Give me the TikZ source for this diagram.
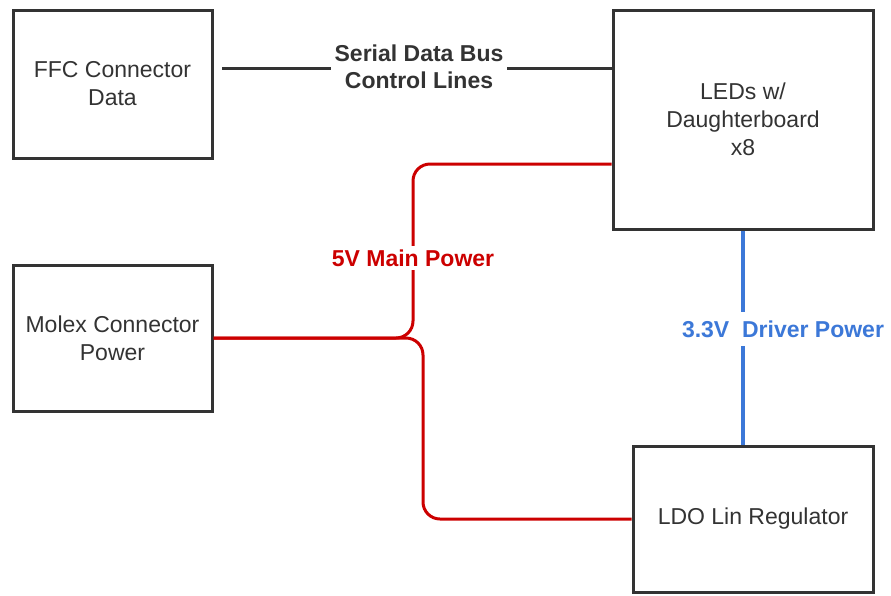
\documentclass[tikz,border=0pt]{standalone}
\usepackage{fontspec}
\setmainfont{Liberation Sans}
\definecolor{mainred}{HTML}{CC0000}
\definecolor{driverblue}{HTML}{3C78D8}
\definecolor{boxgray}{HTML}{333333}
\tikzset {
  every node/.style={font=\fontsize{23}{28}\selectfont},
  block/.style={draw=boxgray,line width=3pt,align=center,text=boxgray,inner sep=0pt},
  busline/.style={boxgray,line width=3pt},
  mainpower/.style={mainred,line width=3pt,rounded corners=17pt},
  driverpower/.style={driverblue,line width=3.5pt},
  wirelabel/.style={fill=white,align=center,inner sep=4pt,
    font=\fontsize{23}{27}\selectfont\bfseries},
}

\begin{document}
\begin{tikzpicture}[x=1pt,y=-1pt]
  \useasboundingbox (0,0) rectangle (891,595);

  \node[block,minimum width=199pt,minimum height=148pt] (ffc) at (112.5,84)
    {FFC Connector\\Data};
  \node[block,minimum width=199pt,minimum height=146pt] (molex) at (112.5,338)
    {Molex Connector\\Power};
  \node[block,minimum width=260pt,minimum height=219pt] (leds) at (743,119.5)
    {LEDs w/\\Daughterboard\\x8};
  \node[block,minimum width=240pt,minimum height=146pt] (ldo) at (753,519)
    {LDO Lin Regulator};

  \coordinate (busstart) at (222,68);
  \coordinate (upbend) at (413,338);
  \coordinate (downbend) at (423,338);

  % data bus
  \draw[busline] (busstart) -- (busstart -| leds.west);
  \node[wirelabel,text=boxgray] (buslabel) at (419,66.5)
    {Serial Data Bus\\Control Lines};

  % 5V supply, split in two
  \draw[mainpower] (molex.east) -- (upbend) -- (upbend |- 0,164)
    -- ([yshift=-44.5pt]leds.west);
  \draw[mainpower] (molex.east) -- (downbend) -- (downbend |- ldo.west)
    -- (ldo.west);
  \node[wirelabel,text=mainred] (mainlabel) at (413,258) {5V Main Power};

  % 3.3V from the regulator
  \draw[driverpower] (leds.south) -- (leds.south |- ldo.north);
  \node[wirelabel,text=driverblue,inner ysep=9pt] (driverlabel) at (783,329)
    {3.3V\ \ Driver Power};
\end{tikzpicture}
\end{document}
